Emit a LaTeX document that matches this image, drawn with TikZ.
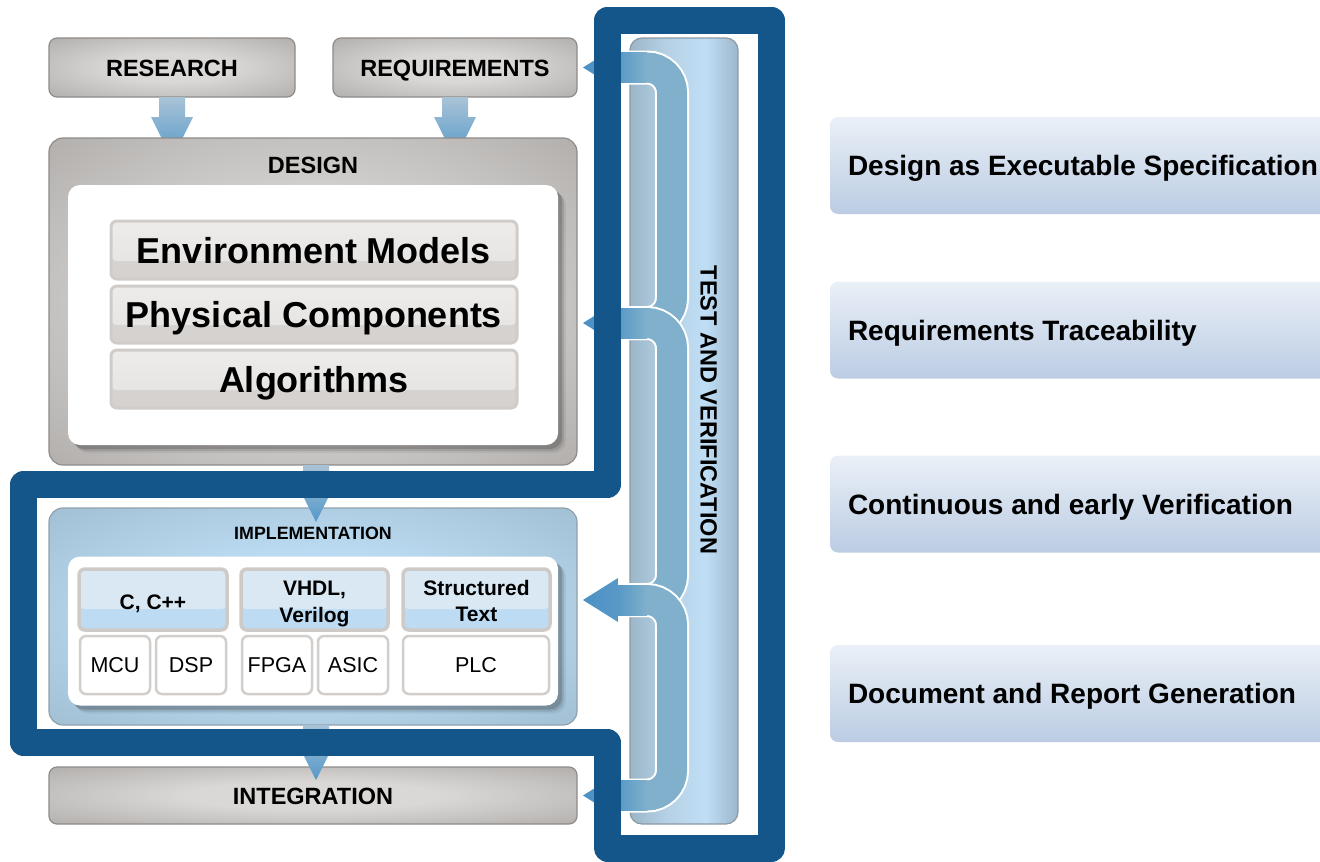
\documentclass[tikz,border=0pt]{standalone}
\usepackage{fontspec}
\setmainfont{Liberation Sans}
\usetikzlibrary{calc,shadows}

% palette
\definecolor{bandblue}{HTML}{14568A}
\definecolor{elbowblue}{HTML}{80B0CC}
\definecolor{elbowleft}{HTML}{5898C6}
\definecolor{headblue}{HTML}{4C91C5}
\definecolor{grayedge}{HTML}{8E8B89}
\definecolor{graylight}{HTML}{DAD8D6}
\definecolor{graydark}{HTML}{B1AEAC}
\definecolor{impllight}{HTML}{BCDCF3}
\definecolor{impldark}{HTML}{9FBCD0}
\definecolor{impledge}{HTML}{8FA1AE}
\definecolor{barborder}{HTML}{D0CCC9}
\definecolor{bartop}{HTML}{EDECEA}
\definecolor{barmid}{HTML}{E3E2E0}
\definecolor{barlow}{HTML}{D6D2CF}
\definecolor{hdrborder}{HTML}{CECAC7}
\definecolor{hdrtop}{HTML}{D9E8F3}
\definecolor{hdrbot}{HTML}{BDDCF4}
\definecolor{hwborder}{HTML}{D2CECB}
\definecolor{paneltop}{HTML}{EAF0F7}
\definecolor{panelbot}{HTML}{BBCCE3}
\definecolor{arrowtop}{HTML}{A9C3D6}
\definecolor{arrowbot}{HTML}{5498C9}
\definecolor{tcA}{HTML}{9CB5C9}
\definecolor{tcB}{HTML}{B6D1E5}
\definecolor{tcC}{HTML}{BFDEF5}
\definecolor{tcD}{HTML}{9DB7CB}
\definecolor{tcedge}{HTML}{8C99A4}

% soft radial fills for the stage boxes
\pgfdeclareradialshading{graysoft}{\pgfpointorigin}{color(0bp)=(graylight); color(12bp)=(graylight); color(36bp)=(graydark); color(50bp)=(graydark)}
\pgfdeclareradialshading{bluesoft}{\pgfpointorigin}{color(0bp)=(impllight); color(14bp)=(impllight); color(38bp)=(impldark); color(50bp)=(impldark)}
% test column, lighter towards its right half
\pgfdeclarehorizontalshading{testcol}{100bp}{color(0bp)=(tcA); color(25bp)=(tcA); color(42bp)=(tcB); color(60bp)=(tcC); color(75bp)=(tcD); color(100bp)=(tcD)}

% down arrow from one box anchor to the next, tip #3 beyond the target anchor
\newcommand\flowarrow[3]{%
  \path[shade, top color=arrowtop, bottom color=arrowbot] let \p1=(#1), \p2=(#2) in
    (\x1-13pt,\y1) -- (\x1+13pt,\y1) -- (\x1+13pt,\y2-#3+42pt) -- (\x1+21pt,\y2-#3+42pt)
    -- (\x1,\y2-#3) -- (\x1-21pt,\y2-#3+42pt) -- (\x1-13pt,\y2-#3+42pt) -- cycle;}

% arrow head and shaded horizontal run leaving the test column at height #1
\newcommand\tvhead[1]{%
  \shade[left color=elbowleft, right color=elbowblue] (618,#1-15) rectangle (647,#1+15);
  \shade[left color=headblue, right color=elbowleft] (583,#1) -- (618,#1-22) -- (618,#1+22) -- cycle;}

% bracket running down the test column from height #1 to height #2
\newcommand\tvelbow[2]{%
  \draw[line width=34pt, white, rounded corners=25pt] (618,#1) -- (672,#1) -- (672,#2) -- (618,#2);
  \draw[line width=30pt, elbowblue, rounded corners=25pt] (618,#1) -- (672,#1) -- (672,#2) -- (618,#2);
  \tvhead{#1}}

\begin{document}
\begin{tikzpicture}[x=1pt, y=-1pt,
  every node/.style={inner sep=0pt, outer sep=0pt},
  stagebox/.style={draw=grayedge, line width=1.2pt, shade, shading=graysoft, rounded corners=8pt},
  implbox/.style={draw=impledge, line width=1.2pt, shade, shading=bluesoft, rounded corners=14pt},
  stagefont/.style={font=\fontsize{23.5}{28}\selectfont\bfseries, text height=17pt, text depth=0pt},
  whitepanel/.style={fill=white, rounded corners=12pt,
    drop shadow={shadow xshift=8pt, shadow yshift=-8pt, opacity=.06, fill=black},
    drop shadow={shadow xshift=6pt, shadow yshift=-6pt, opacity=.10, fill=black},
    drop shadow={shadow xshift=4pt, shadow yshift=-4pt, opacity=.16, fill=black}},
  bar/.style={draw=barborder, line width=3pt, fill=barlow, rounded corners=6pt,
    minimum width=406pt, font=\fontsize{36}{40}\selectfont\bfseries, text height=26pt, text depth=0pt,
    path picture={\fill[top color=bartop, bottom color=barmid]
      (path picture bounding box.north west) rectangle ([yshift=18pt]path picture bounding box.south east);}},
  hdr/.style={draw=hdrborder, line width=3.5pt, fill=hdrbot, rounded corners=6pt,
    minimum width=147pt, minimum height=61pt,
    path picture={\fill[hdrtop]
      (path picture bounding box.north west) rectangle ([yshift=21pt]path picture bounding box.south east);}},
  hdrline/.style={font=\fontsize{21}{27}\selectfont\bfseries, anchor=base},
  hw/.style={draw=hwborder, line width=2.5pt, fill=white, rounded corners=6pt,
    minimum width=70pt, minimum height=58pt, font=\fontsize{21.5}{26}\selectfont, text height=15.4pt, text depth=0pt},
  panel/.style={top color=paneltop, bottom color=panelbot, rounded corners=8pt,
    minimum width=500pt, minimum height=97pt},
  paneltext/.style={font=\fontsize{28}{32}\selectfont\bfseries, text height=20pt, text depth=0pt},
  band/.style={line width=27pt, draw=bandblue, line join=round}]

\useasboundingbox (0,0) rectangle (1320,862);

% benefit panels on the right
\foreach \n/\yy/\txt in {p1/165.5/Design as Executable Specification,
                         p2/330/Requirements Traceability,
                         p3/504/Continuous and early Verification,
                         p4/693.5/Document and Report Generation}{
  \node[panel, anchor=west] (\n) at (830,\yy) {};
  \node[paneltext, anchor=west] at ([xshift=18pt]\n.west) {\txt};
}

% test and verification column
\node[draw=tcedge, line width=1.2pt, shade, shading=testcol, rounded corners=12pt,
      minimum width=108pt, minimum height=786pt] (test) at (684,431) {};
\node[stagefont, rotate=-90] (testlbl) at (709,410) {TEST AND VERIFICATION};

% feedback brackets from the test column to each stage
\tvelbow{67.5}{323}
\tvelbow{323}{600}
\tvelbow{600}{795.5}
\tvhead{795.5}

% stages
\node[stagebox, stagefont, minimum width=246pt, minimum height=59pt] (research) at (172,67.5) {RESEARCH};
\node[stagebox, stagefont, minimum width=244pt, minimum height=59pt] (require) at (455,67.5) {REQUIREMENTS};

\flowarrow{research.south}{$(research.south)+(0,41)$}{21pt}
\flowarrow{require.south}{$(require.south)+(0,41)$}{21pt}
\node[stagebox, rounded corners=14pt, minimum width=528pt, minimum height=327pt] (design) at (313,301.5) {};
\node[stagefont] (designlbl) at (313,165) {DESIGN};
\node[whitepanel, minimum width=490pt, minimum height=260pt] (designpanel) at (313,315) {};
\node[bar, minimum height=58pt] (env) at (314,250) {Environment Models};
\node[bar, minimum height=57pt] (phys) at (314,314.5) {Physical Components};
\node[bar, minimum height=58pt] (algo) at (314,379) {Algorithms};

\node[implbox, minimum width=528pt, minimum height=217pt] (impl) at (313,616.5) {};
\node[font=\fontsize{17.8}{20}\selectfont\bfseries, text height=12.7pt, text depth=0pt] (impllbl) at (313,533) {IMPLEMENTATION};
\node[whitepanel, minimum width=490pt, minimum height=149pt] (implpanel) at (313,631) {};

\node[hdr, minimum width=148pt] (cpp) at (153,599.5) {};
\node[hdrline] at ($(cpp.center)+(0,9.5)$) {C, C++};
\node[hdr] (vhdl) at (314.5,599.5) {};
\node[hdrline] at ($(vhdl.center)+(0,-4.5)$) {VHDL,};
\node[hdrline] at ($(vhdl.center)+(0,22.5)$) {Verilog};
\node[hdr] (stext) at (476.5,599.5) {};
\node[hdrline] at ($(stext.center)+(0,-4.5)$) {Structured};
\node[hdrline] at ($(stext.center)+(0,21.5)$) {Text};

\node[hw] (mcu) at (115,665) {MCU};
\node[hw] (dsp) at (191,665) {DSP};
\node[hw] (fpga) at (277,665) {FPGA};
\node[hw] (asic) at (353,665) {ASIC};
\node[hw, minimum width=146pt] (plc) at (476,665) {PLC};

\node[stagebox, stagefont, minimum width=528pt, minimum height=57pt] (integ) at (313,795.5) {INTEGRATION};

\flowarrow{$(design.south)+(3,0)$}{impl.north}{14pt}
\flowarrow{$(impl.south)+(3,0)$}{integ.north}{13pt}

% verification loop frame
\draw[band] (607.5,484.5) -- (607.5,20) -- (771.5,20) -- (771.5,848) -- (607.5,848)
  -- (607.5,742.5) -- (23.5,742.5) -- (23.5,484.5) -- cycle;
\end{tikzpicture}
\end{document}
